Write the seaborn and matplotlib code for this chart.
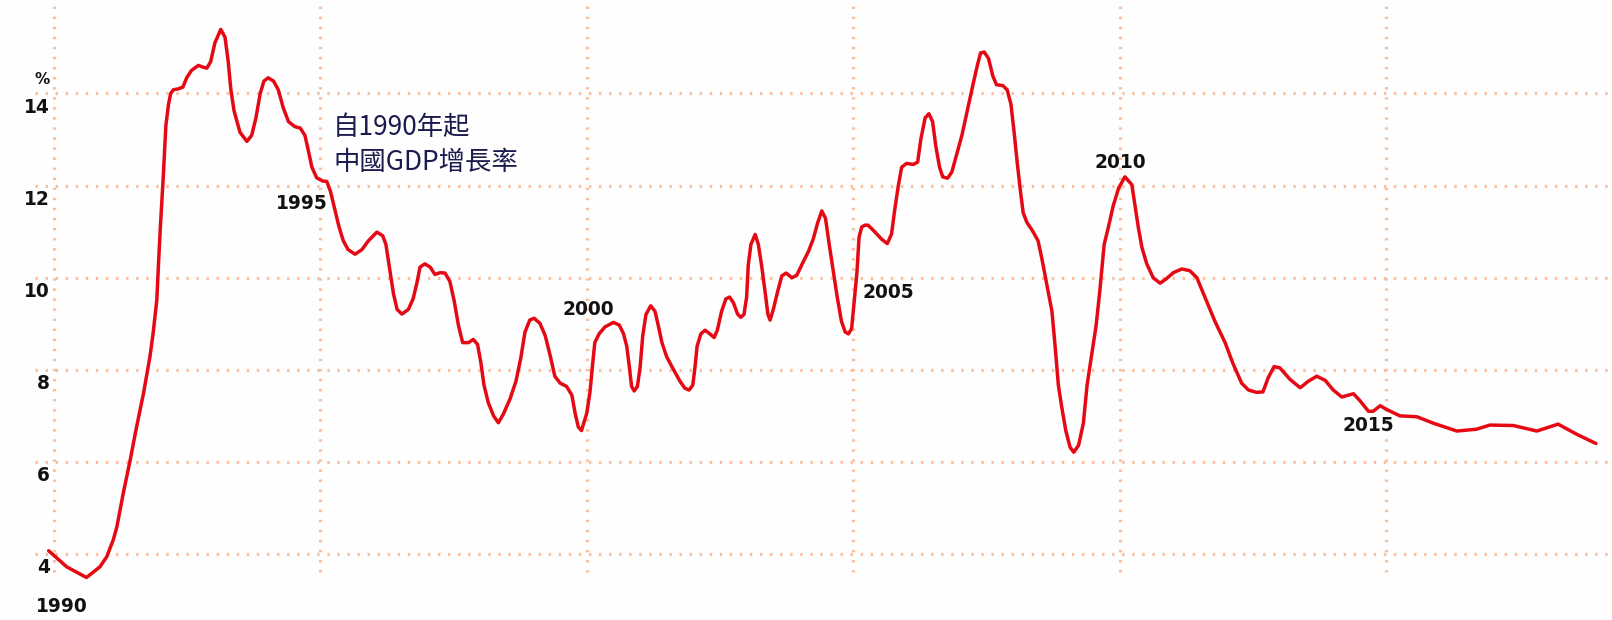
import matplotlib
matplotlib.use("Agg")
import matplotlib.pyplot as plt
import seaborn as sns
import pandas as pd

# ---- data (decimal year, GDP growth %) ----
period = [
    1989.90, 1990.24, 1990.61, 1990.86, 1990.99, 1991.11, 1991.18, 1991.30, 1991.43, 1991.55,
    1991.68, 1991.80, 1991.86, 1991.93, 1991.96, 1992.00, 1992.05, 1992.10, 1992.15, 1992.19,
    1992.24, 1992.33, 1992.42, 1992.49, 1992.58, 1992.71, 1992.80, 1992.87, 1992.94, 1993.02,
    1993.13, 1993.21, 1993.27, 1993.32, 1993.38, 1993.49, 1993.62, 1993.71, 1993.79, 1993.87,
    1993.94, 1994.02, 1994.12, 1994.21, 1994.30, 1994.40, 1994.52, 1994.62, 1994.71, 1994.77,
    1994.84, 1994.93, 1995.04, 1995.12, 1995.19, 1995.27, 1995.35, 1995.43, 1995.52, 1995.65,
    1995.78, 1995.90, 1996.06, 1996.17, 1996.23, 1996.31, 1996.37, 1996.44, 1996.53, 1996.65,
    1996.74, 1996.81, 1996.87, 1996.96, 1997.06, 1997.15, 1997.25, 1997.34, 1997.43, 1997.51,
    1997.59, 1997.67, 1997.78, 1997.87, 1997.95, 1998.01, 1998.07, 1998.15, 1998.25, 1998.34,
    1998.43, 1998.56, 1998.67, 1998.76, 1998.84, 1998.93, 1999.01, 1999.12, 1999.22, 1999.31,
    1999.40, 1999.50, 1999.62, 1999.72, 1999.78, 1999.84, 1999.90, 2000.00, 2000.06, 2000.11,
    2000.15, 2000.23, 2000.34, 2000.50, 2000.61, 2000.69, 2000.75, 2000.80, 2000.84, 2000.89,
    2000.95, 2001.00, 2001.05, 2001.11, 2001.20, 2001.28, 2001.34, 2001.41, 2001.50, 2001.62,
    2001.75, 2001.84, 2001.92, 2001.99, 2002.03, 2002.07, 2002.14, 2002.22, 2002.31, 2002.39,
    2002.45, 2002.53, 2002.61, 2002.68, 2002.75, 2002.83, 2002.89, 2002.95, 2003.00, 2003.03,
    2003.08, 2003.16, 2003.22, 2003.28, 2003.35, 2003.40, 2003.44, 2003.50, 2003.58, 2003.66,
    2003.74, 2003.85, 2003.94, 2004.03, 2004.16, 2004.25, 2004.33, 2004.41, 2004.48, 2004.55,
    2004.63, 2004.70, 2004.78, 2004.85, 2004.91, 2004.97, 2005.02, 2005.07, 2005.11, 2005.16,
    2005.22, 2005.28, 2005.41, 2005.53, 2005.64, 2005.72, 2005.78, 2005.85, 2005.91, 2006.00,
    2006.13, 2006.21, 2006.27, 2006.35, 2006.42, 2006.49, 2006.55, 2006.62, 2006.68, 2006.77,
    2006.85, 2006.93, 2007.04, 2007.14, 2007.24, 2007.33, 2007.39, 2007.46, 2007.54, 2007.62,
    2007.69, 2007.81, 2007.89, 2007.96, 2008.02, 2008.08, 2008.14, 2008.19, 2008.26, 2008.37,
    2008.47, 2008.54, 2008.63, 2008.73, 2008.79, 2008.85, 2008.91, 2008.99, 2009.07, 2009.14,
    2009.23, 2009.32, 2009.39, 2009.48, 2009.56, 2009.63, 2009.71, 2009.79, 2009.88, 2009.98,
    2010.10, 2010.23, 2010.29, 2010.35, 2010.42, 2010.51, 2010.63, 2010.76, 2010.88, 2011.01,
    2011.17, 2011.32, 2011.45, 2011.60, 2011.79, 2011.98, 2012.13, 2012.29, 2012.42, 2012.57,
    2012.69, 2012.79, 2012.90, 2013.01, 2013.20, 2013.39, 2013.54, 2013.70, 2013.86, 2014.01,
    2014.17, 2014.39, 2014.51, 2014.67, 2014.76, 2014.89, 2015.01, 2015.26, 2015.58, 2015.89,
    2016.33, 2016.70, 2016.95, 2017.39, 2017.83, 2018.23, 2018.58, 2018.94,
]
growth = [
    4.07, 3.72, 3.49, 3.72, 3.94, 4.30, 4.59, 5.32, 6.04, 6.76,
    7.49, 8.28, 8.79, 9.52, 10.27, 11.18, 12.17, 13.31, 13.77, 14.00,
    14.08, 14.10, 14.14, 14.34, 14.50, 14.61, 14.57, 14.55, 14.69, 15.10,
    15.39, 15.22, 14.69, 14.08, 13.62, 13.16, 12.96, 13.09, 13.47, 14.00,
    14.27, 14.34, 14.27, 14.08, 13.70, 13.39, 13.28, 13.25, 13.09, 12.78,
    12.40, 12.17, 12.10, 12.09, 11.87, 11.48, 11.10, 10.80, 10.61, 10.51,
    10.61, 10.80, 10.99, 10.91, 10.72, 10.11, 9.66, 9.31, 9.21, 9.31,
    9.54, 9.88, 10.23, 10.30, 10.23, 10.07, 10.11, 10.10, 9.92, 9.50,
    8.97, 8.59, 8.59, 8.66, 8.55, 8.17, 7.67, 7.29, 7.00, 6.85,
    7.03, 7.37, 7.75, 8.25, 8.82, 9.08, 9.12, 9.01, 8.74, 8.32,
    7.86, 7.71, 7.64, 7.45, 7.06, 6.76, 6.68, 7.06, 7.52, 8.13,
    8.59, 8.78, 8.93, 9.03, 8.97, 8.78, 8.51, 8.05, 7.64, 7.54,
    7.64, 8.05, 8.74, 9.20, 9.39, 9.27, 8.97, 8.59, 8.28, 8.02,
    7.75, 7.60, 7.56, 7.67, 8.05, 8.51, 8.78, 8.86, 8.78, 8.70,
    8.86, 9.27, 9.54, 9.58, 9.46, 9.21, 9.14, 9.20, 9.58, 10.27,
    10.72, 10.94, 10.72, 10.27, 9.66, 9.20, 9.08, 9.31, 9.69, 10.04,
    10.10, 10.00, 10.05, 10.27, 10.57, 10.84, 11.18, 11.45, 11.29, 10.72,
    10.11, 9.58, 9.05, 8.82, 8.78, 8.89, 9.50, 10.11, 10.88, 11.10,
    11.14, 11.14, 10.99, 10.84, 10.74, 10.95, 11.48, 12.02, 12.40, 12.48,
    12.46, 12.51, 13.01, 13.47, 13.56, 13.39, 12.86, 12.40, 12.19, 12.16,
    12.29, 12.63, 13.09, 13.62, 14.15, 14.61, 14.88, 14.90, 14.76, 14.38,
    14.19, 14.17, 14.08, 13.77, 13.16, 12.48, 11.87, 11.41, 11.20, 11.01,
    10.80, 10.42, 9.88, 9.27, 8.51, 7.67, 7.22, 6.68, 6.32, 6.21,
    6.36, 6.84, 7.67, 8.36, 8.97, 9.73, 10.72, 11.10, 11.56, 11.94,
    12.19, 12.02, 11.56, 11.10, 10.65, 10.30, 10.00, 9.88, 9.98, 10.11,
    10.19, 10.15, 10.00, 9.58, 9.05, 8.59, 8.13, 7.71, 7.56, 7.51,
    7.52, 7.83, 8.07, 8.04, 7.79, 7.61, 7.75, 7.86, 7.77, 7.56,
    7.41, 7.48, 7.33, 7.10, 7.10, 7.22, 7.14, 7.00, 6.98, 6.84,
    6.67, 6.71, 6.80, 6.79, 6.67, 6.82, 6.60, 6.40,
]

y_ticks = [4, 6, 8, 10, 12, 14]
y_tick_labels = ["4", "6", "8", "10", "12", "14"]
year_marks = [1990, 1995, 2000, 2005, 2010, 2015]
year_labels = ["1990", "1995", "2000", "2005", "2010", "2015"]
title_lines = ["自1990年起", "中國GDP增長率"]

df = pd.DataFrame({"period": period, "growth": growth})

# ---- style ----
sns.set_style("white")
plt.rcParams["font.family"] = ["DejaVu Sans"]

fig = plt.figure(figsize=(16.12, 6.20), dpi=100)
fig.patch.set_facecolor("#fefefe")
ax = fig.add_axes([0, 0, 1, 1])
ax.set_facecolor("#fefefe")

X0, X1 = 1988.9865, 2019.2417
Y0, Y1 = 2.567, 16.030
ax.set_xlim(X0, X1)
ax.set_ylim(Y0, Y1)
ax.axis("off")

grid_color = "#f9c09e"
dot = dict(color=grid_color, linewidth=2.3, linestyle=(0, (0.75, 2.4)),
           dash_capstyle="butt", zorder=1)
for yv in y_ticks:
    ax.plot([1989.64, X1], [yv, yv], **dot)
for xv in year_marks:
    ax.plot([xv, xv], [3.61, Y1], **dot)

sns.lineplot(data=df, x="period", y="growth", ax=ax, color="#e50914",
             linewidth=2.5, sort=False, estimator=None, zorder=3)
for ln in ax.lines:
    ln.set_solid_joinstyle("round")
    ln.set_solid_capstyle("round")

num_font = dict(fontsize=13.4, fontweight="bold", color="#111111",
                family=["DejaVu Sans"])

# y-axis labels just below each grid line
for yv, lab in zip(y_ticks, y_tick_labels):
    ax.text(1989.925, yv - 0.30, lab, ha="right", va="center", **num_font)
ax.text(1989.925, 14.31, "%", ha="right", va="center", fontsize=11,
        fontweight="bold", color="#111111", family=["DejaVu Sans"])

# year labels placed next to the curve
year_label_pos = [(1990.15, 2.85), (1994.65, 11.62), (2000.02, 9.32),
                  (2005.65, 9.67), (2010.01, 12.51), (2014.66, 6.78)]
for (xp, yp), lab in zip(year_label_pos, year_labels):
    ax.text(xp, yp, lab, ha="center", va="center", **num_font)

# title
cjk = ["Noto Sans CJK TC", "DejaVu Sans"]
ax.text(1995.24, 13.27, title_lines[0], ha="left", va="center", fontsize=19,
        fontweight="light", color="#1b1b4d", family=cjk)
ax.text(1995.24, 12.51, title_lines[1], ha="left", va="center", fontsize=19,
        fontweight="light", color="#1b1b4d", family=cjk)

fig.savefig("out.png", dpi=100, facecolor=fig.get_facecolor())
